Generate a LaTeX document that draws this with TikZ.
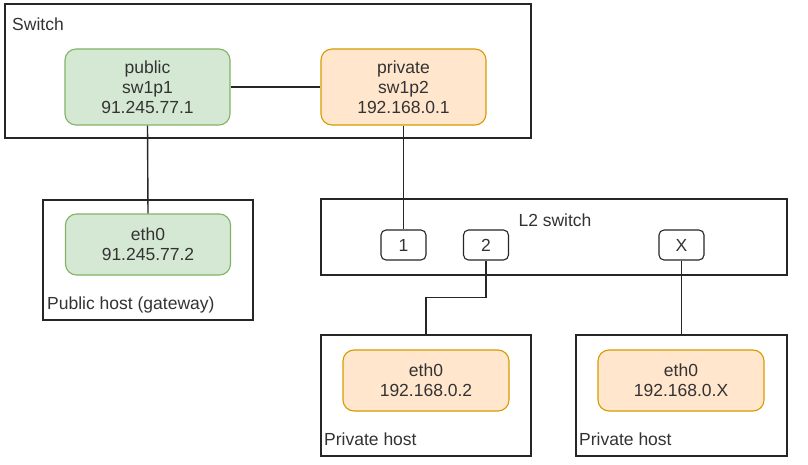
\documentclass[tikz,border=0pt]{standalone}
\usepackage{fontspec}
\setmainfont{Liberation Sans}
\definecolor{gfill}{HTML}{D5E8D4}
\definecolor{gdraw}{HTML}{82B366}
\definecolor{ofill}{HTML}{FFE6CC}
\definecolor{odraw}{HTML}{D79B00}
\definecolor{txt}{HTML}{333333}
\begin{document}
\begin{tikzpicture}[x=1pt,y=-1pt,
  every node/.style={font=\fontsize{17.5}{20}\selectfont, text=txt},
  frame/.style={draw=black!85, line width=1.2pt, fill=white, inner sep=0pt},
  greenbox/.style={draw=gdraw, fill=gfill, line width=1.1pt, rounded corners=11pt, align=center, inner sep=0pt},
  orangebox/.style={draw=odraw, fill=ofill, line width=1.1pt, rounded corners=11pt, align=center, inner sep=0pt},
  portbox/.style={draw=black!85, fill=white, line width=1.1pt, rounded corners=5pt, minimum width=45pt, minimum height=30pt, inner sep=0pt},
  lbl/.style={inner sep=0pt, anchor=west},
  wire/.style={draw=black!85, line width=1.4pt}
]
\useasboundingbox (0,0) rectangle (808,465);
% frames
\node[frame, minimum width=526pt, minimum height=134pt] (sw) at (268,71) {};
\node[frame, minimum width=210pt, minimum height=120pt] (pubhost) at (148,260) {};
\node[frame, minimum width=466pt, minimum height=76pt] (l2) at (554,237) {};
\node[frame, minimum width=210pt, minimum height=121pt] (ph1) at (426,395.5) {};
\node[frame, minimum width=211pt, minimum height=121pt] (ph2) at (681.5,395.5) {};
% labels
\node[lbl] (swl) at (12,24) {Switch};
\node[lbl] (publ) at (47,305) {Public host (gateway)};
\node[inner sep=0pt] (l2l) at (555,220) {L2 switch};
\node[lbl] (ph1l) at (324,439) {Private host};
\node[lbl] (ph2l) at (579,439) {Private host};
% interfaces
\node[greenbox, minimum width=165pt, minimum height=76pt] (public) at (147.5,87) {public\\sw1p1\\91.245.77.1};
\node[orangebox, minimum width=165pt, minimum height=76pt] (private) at (403.5,87) {private\\sw1p2\\192.168.0.1};
\node[greenbox, minimum width=165pt, minimum height=61pt] (pubeth) at (148,244.5) {eth0\\91.245.77.2};
\node[orangebox, minimum width=166pt, minimum height=61pt] (eth1) at (426,380.5) {eth0\\192.168.0.2};
\node[orangebox, minimum width=166pt, minimum height=61pt] (eth2) at (681,380.5) {eth0\\192.168.0.X};
% ports
\node[portbox] (p1) at (403.5,245) {1};
\node[portbox] (p2) at (486,245) {2};
\node[portbox] (px) at (681.5,245) {X};
% wires
\draw[wire] (public.east) -- (private.west);
\draw[wire] (public.south) -- (pubeth.north);
\draw[wire] (private.south) -- (p1.north);
\draw[wire] (p2.south) -- ++(0,37) -| (ph1.north);
\draw[wire] (px.south) -- (ph2.north);
\end{tikzpicture}
\end{document}
